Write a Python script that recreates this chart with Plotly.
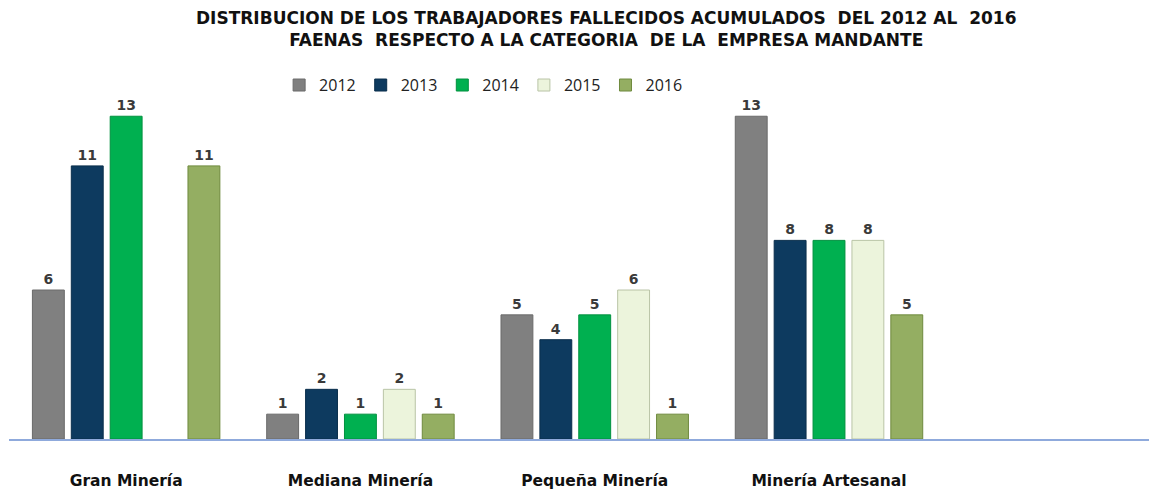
import plotly.graph_objects as go

categories = ["Gran Minería", "Mediana Minería", "Pequeña Minería", "Minería Artesanal"]
years = ["2012", "2013", "2014", "2015", "2016"]
v2012 = [6, 1, 5, 13]
v2013 = [11, 2, 4, 8]
v2014 = [13, 1, 5, 8]
v2015 = [None, 2, 6, 8]
v2016 = [11, 1, 1, 5]
series = [v2012, v2013, v2014, v2015, v2016]
colors = ["#808080", "#0D3A5F", "#00B050", "#ECF4DC", "#94AE62"]
borders = ["#6a6a6a", "#0a2e4c", "#00913f", "#b9c4a6", "#6f8a3e"]

fig = go.Figure()
xs = list(range(len(categories)))
for yr, vals, c, b in zip(years, series, colors, borders):
    fig.add_trace(go.Bar(
        x=xs, y=vals, name=yr,
        marker=dict(color=c, line=dict(color=b, width=1)),
        text=[("" if v is None else str(v)) for v in vals],
        textposition="outside",
        textfont=dict(family="DejaVu Sans", size=14, color="#3a3a3a"),
        texttemplate="<b>%{text}</b>",
        cliponaxis=False,
    ))

fig.update_layout(
    width=1149, height=484,
    margin=dict(l=1, r=0, t=71, b=53),
    paper_bgcolor="white", plot_bgcolor="white",
    barmode="group", bargap=0.17, bargroupgap=0.18,
    showlegend=True,
    legend=dict(orientation="h", x=0.413, xanchor="center", y=0.983, yanchor="middle",
                font=dict(family="Open Sans", size=16, color="#222"),
                itemwidth=30, tracegroupgap=0),
    annotations=[dict(
        text="<b>DISTRIBUCION DE LOS TRABAJADORES FALLECIDOS ACUMULADOS  DEL 2012 AL  2016</b><br>"
             "<b>FAENAS  RESPECTO A LA CATEGORIA  DE LA  EMPRESA MANDANTE</b>",
        xref="paper", yref="paper", x=0.52, xanchor="center", y=1.0, yanchor="bottom",
        yshift=27, showarrow=False,
        font=dict(family="DejaVu Sans", size=17, color="#111"),
    )],
    xaxis=dict(range=[-0.5, 4.4], tickvals=xs, ticktext=["<b>%s</b>" % c for c in categories],
               showline=True, linecolor="#8FAADC", linewidth=2, showgrid=False, zeroline=False,
               ticks="", ticklabelstandoff=26,
               tickfont=dict(family="DejaVu Sans", size=15.5, color="#111")),
    yaxis=dict(range=[0, 14.5], visible=False, showgrid=False, zeroline=False),
)

fig.write_html("out.html")
